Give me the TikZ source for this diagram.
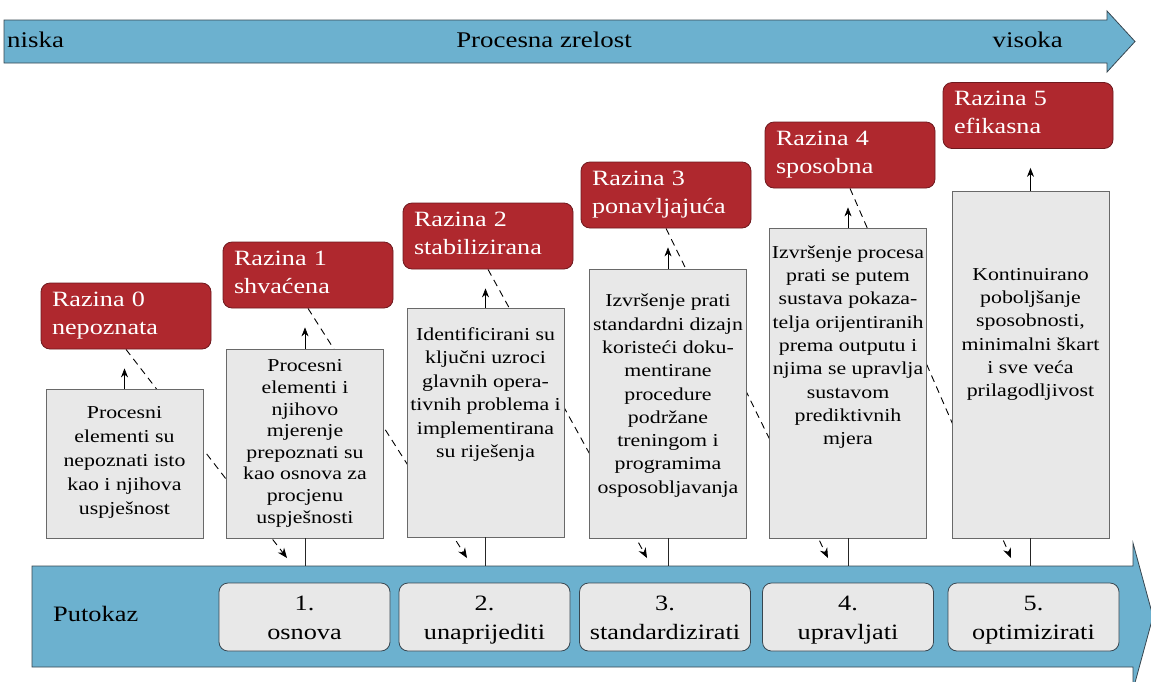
\documentclass[tikz,border=0pt]{standalone}
\usepackage{fontspec}
\setmainfont{Liberation Serif}[FakeStretch=1.2]
\usetikzlibrary{arrows.meta}
\pgfdeclarelayer{bg}
\pgfsetlayers{bg,main}
\newcommand\hst[1]{\rule{0pt}{#1pt}}
\newcommand\dst[1]{\rule[-#1pt]{0pt}{#1pt}}
\definecolor{arrowblue}{RGB}{108,177,207}
\definecolor{arrowedge}{RGB}{55,70,80}
\definecolor{razred}{RGB}{175,40,46}
\definecolor{razborder}{RGB}{110,25,30}
\definecolor{boxgray}{RGB}{232,232,232}
\definecolor{lineg}{RGB}{105,105,105}
\tikzset{
 razina/.style={draw=razborder, fill=razred, rounded corners=9pt, minimum width=170pt, minimum height=66pt, inner xsep=11pt, inner ysep=0pt, text width=148pt, align=left, text=white, font=\fontsize{21.8}{28}\selectfont, line width=0.8pt},
 opis/.style={draw=lineg, fill=boxgray, minimum width=157pt, inner sep=0pt, align=center, line width=0.9pt},
 korak/.style={draw=arrowedge, fill=boxgray, rounded corners=9pt, minimum width=171pt, minimum height=68pt, inner sep=0pt, align=center, font=\fontsize{21.9}{29}\selectfont, line width=0.8pt},
 gore/.style={-{Stealth[length=9pt,width=7pt]}, line width=0.7pt, shorten >=19pt},
 crtkano/.style={dash pattern=on 7pt off 5pt, line width=0.9pt, -{Stealth[length=10pt,width=8pt]}},
 veza/.style={line width=0.7pt, draw=black!85},
 strelica/.style={draw=arrowedge, fill=arrowblue, line width=0.8pt},
 natpis/.style={font=\fontsize{22.4}{28}\selectfont, inner sep=0pt, anchor=base}
}
\begin{document}
\begin{tikzpicture}[x=1pt,y=-1pt]
\clip (0,0) rectangle (1151,681);
% top arrow
\draw[strelica] (4,20) -- (1107,20) -- (1107,11) -- (1135,41.5) -- (1107,72) -- (1107,63) -- (4,63) -- cycle;
\node[natpis, anchor=base west] (niska) at (7,47) {niska};
\node[natpis] (zrelost) at (544,47) {Procesna zrelost};
\node[natpis, anchor=base east] (visoka) at (1063,47) {visoka};
% bottom arrow
\draw[strelica] (32,566) -- (1133,566) -- (1133,543) -- (1153,616.5) -- (1133,690) -- (1133,667) -- (32,667) -- cycle;
\coordinate (btop) at (0,566);
\node[natpis, anchor=base west, font=\fontsize{22}{28}\selectfont] (putokaz) at (53,621) {Putokaz};
\node[korak] (S1) at (304.5,617) {\hst{20}1.\\osnova\dst{5}};
\node[korak] (S2) at (484.5,617) {\hst{20}2.\\unaprijediti\dst{5}};
\node[korak] (S3) at (665,617) {\hst{20}3.\\standardizirati\dst{5}};
\node[korak] (S4) at (848,617) {\hst{20}4.\\upravljati\dst{5}};
\node[korak] (S5) at (1033.5,617) {\hst{20}5.\\optimizirati\dst{5}};
% red level boxes
\node[razina] (R0) at (126,316) {\hst{17}Razina 0\\nepoznata\dst{9}};
\node[razina] (R1) at (308,275) {\hst{17}Razina 1\\shvaćena\dst{9}};
\node[razina] (R2) at (488,236) {\hst{17}Razina 2\\stabilizirana\dst{9}};
\node[razina] (R3) at (666,195) {\hst{17}Razina 3\\ponavljajuća\dst{9}};
\node[razina] (R4) at (850,155) {\hst{17}Razina 4\\sposobna\dst{9}};
\node[razina] (R5) at (1028,115.5) {\hst{17}Razina 5\\efikasna\dst{9}};
% grey description boxes
\node[opis, minimum height=149pt, font=\fontsize{18.2}{24}\selectfont] (B0) at (124.5,463.5)
 {\hst{15}Procesni\\elementi su\\nepoznati isto\\kao i njihova\\uspješnost\dst{10}};
\node[opis, minimum height=189pt, font=\fontsize{18.2}{21.6}\selectfont] (B1) at (305,443.5)
 {\hst{15}Procesni\\elementi i\\njihovo\\mjerenje\\prepoznati su\\kao osnova za\\procjenu\\uspješnosti\dst{7}};
\node[opis, minimum height=229pt, font=\fontsize{18.2}{23.5}\selectfont] (B2) at (485.5,422.5)
 {\hst{15}Identificirani su\\ključni uzroci\\glavnih opera-\\tivnih problema i\\implementirana\\su riješenja\dst{62}};
\node[opis, minimum height=269pt, font=\fontsize{18.2}{23.3}\selectfont] (B3) at (668,403.5)
 {\hst{15}Izvršenje prati\\standardni dizajn\\koristeći doku-\\mentirane\\procedure\\podržane\\treningom i\\programima\\osposobljavanja\dst{22}};
\node[opis, minimum height=310pt, font=\fontsize{18.2}{23.3}\selectfont] (B4) at (848,383)
 {\hst{15}Izvršenje procesa\\prati se putem\\sustava pokaza-\\telja orijentiranih\\prema outputu i\\njima se upravlja\\sustavom\\prediktivnih\\mjera\dst{78}};
\node[opis, minimum height=347pt, font=\fontsize{18.2}{23.3}\selectfont] (B5) at (1030.5,364.5)
 {\hst{15}Kontinuirano\\poboljšanje\\sposobnosti,\\minimalni škart\\i sve veća\\prilagodljivost\dst{67}};
% up arrows
\foreach \i in {0,...,5}{
 \draw[gore] (B\i.north) -- (B\i.north |- R\i.south);
}
% vertical links to the roadmap
\foreach \i in {1,...,5}{
 \draw[veza] (B\i.south) -- (B\i.south |- btop);
}
% dashed transitions behind the boxes
\coordinate (e0) at (287,558);
\coordinate (e1) at (467,558);
\coordinate (e2) at (647,558);
\coordinate (e3) at (828,558);
\coordinate (e4) at (1011,558);
\begin{pgfonlayer}{bg}
\foreach \i in {0,...,4}{
 \draw[crtkano] (R\i.south) -- (e\i);
}
\end{pgfonlayer}
\end{tikzpicture}
\end{document}
